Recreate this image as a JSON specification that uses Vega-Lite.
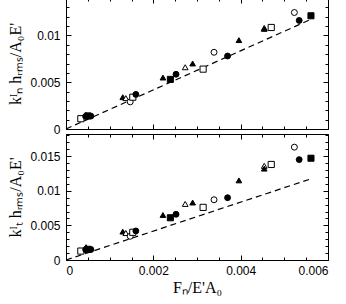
{
  "$schema": "https://vega.github.io/schema/vega-lite/v6.json",
  "padding": {"left": 7, "top": -3, "right": 17, "bottom": 0},
  "spacing": 5,
  "bounds": "flush",
  "datasets": {
    "line": [{"FN": 0, "k": 0}, {"FN": 0.0056, "k": 0.0117}],
    "pts": [
      {"FN": 0.00034, "kN": 0.0011, "kT": 0.00129, "series": "open square"},
      {"FN": 0.00046, "kN": 0.0015, "kT": 0.00186, "series": "filled triangle"},
      {"FN": 0.00045, "kN": 0.00135, "kT": 0.0015, "series": "filled circle"},
      {"FN": 0.0005, "kN": 0.0014, "kT": 0.00155, "series": "filled square"},
      {"FN": 0.00057, "kN": 0.00138, "kT": 0.00152, "series": "filled circle"},
      {"FN": 0.0013, "kN": 0.0034, "kT": 0.0041, "series": "filled triangle"},
      {"FN": 0.00137, "kN": 0.0033, "kT": 0.0039, "series": "open triangle"},
      {"FN": 0.00147, "kN": 0.0029, "kT": 0.00343, "series": "open circle"},
      {"FN": 0.00153, "kN": 0.0034, "kT": 0.004, "series": "open square"},
      {"FN": 0.0016, "kN": 0.0037, "kT": 0.0042, "series": "filled circle"},
      {"FN": 0.00222, "kN": 0.0055, "kT": 0.0065, "series": "filled triangle"},
      {"FN": 0.00239, "kN": 0.0053, "kT": 0.0061, "series": "filled square"},
      {"FN": 0.00252, "kN": 0.00585, "kT": 0.0066, "series": "filled circle"},
      {"FN": 0.00273, "kN": 0.0066, "kT": 0.0081, "series": "open triangle"},
      {"FN": 0.0029, "kN": 0.007, "kT": 0.0083, "series": "filled triangle"},
      {"FN": 0.00314, "kN": 0.0064, "kT": 0.0076, "series": "open square"},
      {"FN": 0.00339, "kN": 0.0082, "kT": 0.0087, "series": "open circle"},
      {"FN": 0.0037, "kN": 0.0078, "kT": 0.009, "series": "filled circle"},
      {"FN": 0.00396, "kN": 0.0095, "kT": 0.0115, "series": "filled triangle"},
      {"FN": 0.00454, "kN": 0.0108, "kT": 0.0136, "series": "open triangle"},
      {"FN": 0.00454, "kN": 0.0107, "kT": 0.0132, "series": "filled triangle"},
      {"FN": 0.0047, "kN": 0.01085, "kT": 0.0138, "series": "open square"},
      {"FN": 0.00523, "kN": 0.01245, "kT": 0.0163, "series": "open circle"},
      {"FN": 0.00534, "kN": 0.0116, "kT": 0.0145, "series": "filled circle"},
      {"FN": 0.00561, "kN": 0.0121, "kT": 0.0147, "series": "filled square"}
    ]
  },
  "vconcat": [
    {
      "width": 262,
      "height": 131,
      "resolve": {"axis": {"x": "independent", "y": "independent"}},
      "layer": [
        {
          "data": {"name": "line"},
          "mark": {"type": "line", "color": "black", "strokeWidth": 1.2, "strokeDash": [6, 4]},
          "encoding": {
            "x": {"field": "FN", "type": "quantitative", "scale": {"domain": [0, 0.006], "nice": false, "zero": false},
              "axis": {"orient": "bottom", "values": [0, 0.002, 0.004, 0.006], "labels": false, "tickSize": -5, "title": null}},
            "y": {"field": "k", "type": "quantitative", "scale": {"domain": [0, 0.014], "nice": false, "zero": false},
              "axis": {"orient": "left", "values": [0, 0.005, 0.01], "format": "~g", "tickSize": -5, "labelPadding": 11, "titlePadding": 6, "title": "kᴵₙ hᵣₘₛ/A₀E'"}}
          }
        },
        {
          "data": {"name": "pts"},
          "mark": {"type": "point", "filled": true, "stroke": "black", "strokeWidth": 1, "opacity": 1},
          "encoding": {
            "x": {"field": "FN", "type": "quantitative",
              "axis": {"orient": "bottom", "values": [0.0005, 0.001, 0.0015, 0.0025, 0.003, 0.0035, 0.0045, 0.005, 0.0055], "labels": false, "tickSize": -3, "title": null}},
            "y": {"field": "kN", "type": "quantitative",
              "axis": {"orient": "left", "values": [0.001, 0.002, 0.003, 0.004, 0.006, 0.007, 0.008, 0.009, 0.011, 0.012, 0.013], "labels": false, "tickSize": -3, "title": null}},
            "shape": {"field": "series", "type": "nominal", "legend": null,
              "scale": {"domain": ["open square", "filled square", "open circle", "filled circle", "open triangle", "filled triangle"], "range": ["square", "square", "circle", "circle", "triangle-up", "triangle-up"]}},
            "fill": {"field": "series", "type": "nominal", "legend": null,
              "scale": {"domain": ["open square", "filled square", "open circle", "filled circle", "open triangle", "filled triangle"], "range": ["white", "black", "white", "black", "white", "black"]}},
            "size": {"field": "series", "type": "ordinal", "legend": null,
              "scale": {"domain": ["open square", "filled square", "open circle", "filled circle", "open triangle", "filled triangle"], "range": [38, 32, 85, 60, 50, 50]}}
          }
        },
        {
          "data": {"name": "line"},
          "mark": {"type": "point", "opacity": 0},
          "encoding": {
            "x": {"field": "FN", "type": "quantitative",
              "axis": {"orient": "top", "values": [0, 0.002, 0.004, 0.006], "labels": false, "tickSize": -5, "title": null}},
            "y": {"field": "k", "type": "quantitative",
              "axis": {"orient": "right", "values": [0, 0.005, 0.01], "labels": false, "tickSize": -5, "title": null}}
          }
        },
        {
          "data": {"name": "line"},
          "mark": {"type": "point", "opacity": 0},
          "encoding": {
            "x": {"field": "FN", "type": "quantitative",
              "axis": {"orient": "top", "values": [0.0005, 0.001, 0.0015, 0.0025, 0.003, 0.0035, 0.0045, 0.005, 0.0055], "labels": false, "tickSize": -3, "title": null}},
            "y": {"field": "k", "type": "quantitative",
              "axis": {"orient": "right", "values": [0.001, 0.002, 0.003, 0.004, 0.006, 0.007, 0.008, 0.009, 0.011, 0.012, 0.013], "labels": false, "tickSize": -3, "title": null}}
          }
        }
      ]
    },
    {
      "width": 262,
      "height": 126,
      "resolve": {"axis": {"x": "independent", "y": "independent"}},
      "layer": [
        {
          "data": {"name": "line"},
          "mark": {"type": "line", "color": "black", "strokeWidth": 1.2, "strokeDash": [6, 4]},
          "encoding": {
            "x": {"field": "FN", "type": "quantitative", "scale": {"domain": [0, 0.006], "nice": false, "zero": false},
              "axis": {"orient": "bottom", "values": [0, 0.002, 0.004, 0.006], "format": "~g", "tickSize": -5, "labelPadding": 10, "titlePadding": 3, "title": "Fₙ/E'A₀"}},
            "y": {"field": "k", "type": "quantitative", "scale": {"domain": [0, 0.0182], "nice": false, "zero": false},
              "axis": {"orient": "left", "values": [0, 0.005, 0.01, 0.015], "format": "~g", "tickSize": -5, "labelPadding": 11, "titlePadding": 6, "title": "kᴵₜ hᵣₘₛ/A₀E'"}}
          }
        },
        {
          "data": {"name": "pts"},
          "mark": {"type": "point", "filled": true, "stroke": "black", "strokeWidth": 1, "opacity": 1},
          "encoding": {
            "x": {"field": "FN", "type": "quantitative",
              "axis": {"orient": "bottom", "values": [0.0005, 0.001, 0.0015, 0.0025, 0.003, 0.0035, 0.0045, 0.005, 0.0055], "labels": false, "tickSize": -3, "title": null}},
            "y": {"field": "kT", "type": "quantitative",
              "axis": {"orient": "left", "values": [0.001, 0.002, 0.003, 0.004, 0.006, 0.007, 0.008, 0.009, 0.011, 0.012, 0.013, 0.014, 0.016, 0.017, 0.018], "labels": false, "tickSize": -3, "title": null}},
            "shape": {"field": "series", "type": "nominal", "legend": null,
              "scale": {"domain": ["open square", "filled square", "open circle", "filled circle", "open triangle", "filled triangle"], "range": ["square", "square", "circle", "circle", "triangle-up", "triangle-up"]}},
            "fill": {"field": "series", "type": "nominal", "legend": null,
              "scale": {"domain": ["open square", "filled square", "open circle", "filled circle", "open triangle", "filled triangle"], "range": ["white", "black", "white", "black", "white", "black"]}},
            "size": {"field": "series", "type": "ordinal", "legend": null,
              "scale": {"domain": ["open square", "filled square", "open circle", "filled circle", "open triangle", "filled triangle"], "range": [38, 32, 85, 60, 50, 50]}}
          }
        },
        {
          "data": {"name": "line"},
          "mark": {"type": "point", "opacity": 0},
          "encoding": {
            "x": {"field": "FN", "type": "quantitative",
              "axis": {"orient": "top", "values": [0, 0.002, 0.004, 0.006], "labels": false, "tickSize": -5, "title": null}},
            "y": {"field": "k", "type": "quantitative",
              "axis": {"orient": "right", "values": [0, 0.005, 0.01, 0.015], "labels": false, "tickSize": -5, "title": null}}
          }
        },
        {
          "data": {"name": "line"},
          "mark": {"type": "point", "opacity": 0},
          "encoding": {
            "x": {"field": "FN", "type": "quantitative",
              "axis": {"orient": "top", "values": [0.0005, 0.001, 0.0015, 0.0025, 0.003, 0.0035, 0.0045, 0.005, 0.0055], "labels": false, "tickSize": -3, "title": null}},
            "y": {"field": "k", "type": "quantitative",
              "axis": {"orient": "right", "values": [0.001, 0.002, 0.003, 0.004, 0.006, 0.007, 0.008, 0.009, 0.011, 0.012, 0.013, 0.014, 0.016, 0.017, 0.018], "labels": false, "tickSize": -3, "title": null}}
          }
        }
      ]
    }
  ],
  "config": {
    "view": {"stroke": "black", "strokeWidth": 1},
    "axis": {
      "domain": false, "grid": false, "tickColor": "black", "tickWidth": 1, "minExtent": 0,
      "labelFont": "Liberation Sans", "labelFontSize": 12, "labelColor": "black",
      "titleFont": "Liberation Serif", "titleFontSize": 16, "titleFontWeight": "normal", "titleColor": "black"
    }
  }
}
